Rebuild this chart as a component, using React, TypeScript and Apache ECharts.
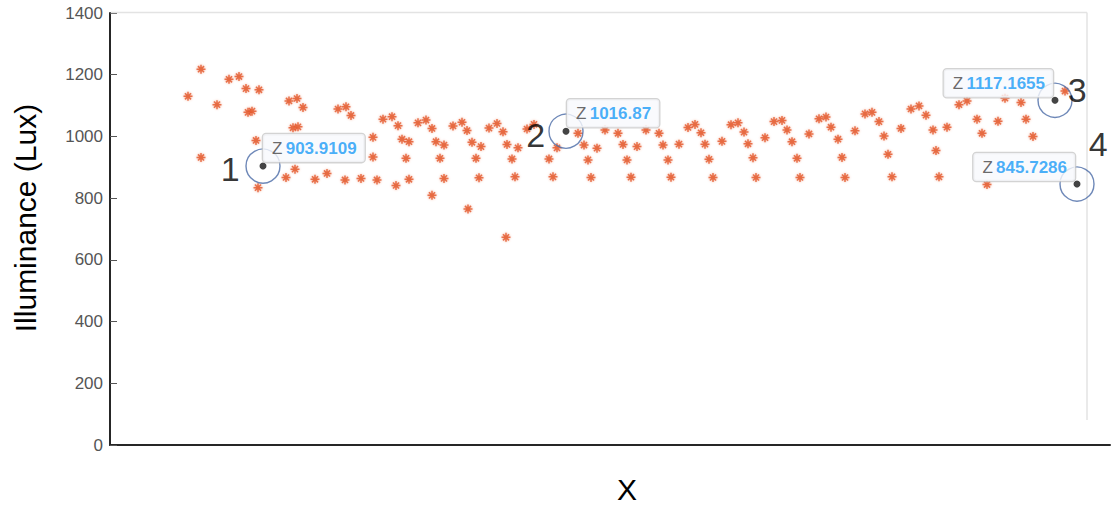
import React, { useEffect, useRef } from "react";
import * as echarts from "echarts";

// Measured illuminance samples along X
const sampleX = [
  7.8, 9.1, 9.1, 10.7, 11.9, 12.9, 13.6, 13.8, 14.2, 14.6,
  14.9, 14.8, 17.6, 17.9, 18.3, 18.5, 18.7, 18.8, 19.3, 20.5,
  21.7, 22.8, 23.5, 23.6, 24.1, 25.1, 26.3, 26.3, 26.7, 27.3,
  28.2, 28.6, 28.8, 29.2, 29.6, 29.9, 29.9, 30.8, 31.6, 32.2,
  32.2, 32.6, 33.0, 33.4, 33.4, 34.3, 35.2, 35.7, 35.8, 36.2,
  36.6, 36.9, 37.1, 37.9, 38.7, 39.3, 39.6, 39.7, 40.2, 40.5,
  40.8, 41.7, 42.4, 43.9, 44.3, 44.7, 46.8, 47.4, 47.8, 48.1,
  48.7, 49.5, 50.8, 51.3, 51.7, 52.1, 52.7, 53.6, 54.9, 55.3,
  55.8, 56.1, 56.9, 57.8, 58.5, 59.1, 59.5, 59.9, 60.3, 61.2,
  62.1, 62.8, 63.4, 63.8, 64.3, 64.6, 65.5, 66.4, 67.2, 67.7,
  68.2, 68.7, 69.0, 69.9, 70.9, 71.6, 72.1, 72.8, 73.2, 73.5,
  74.5, 75.5, 76.2, 76.9, 77.4, 77.8, 78.2, 79.1, 80.1, 80.9,
  81.6, 82.3, 82.6, 82.9, 83.7, 84.9, 85.7, 86.7, 87.2, 87.7,
  88.8, 89.5, 91.1, 91.6, 92.3, 95.5,
];
const sampleLux = [
  1130, 1218, 932, 1103, 1185, 1194, 1155, 1078, 1082, 987,
  1151, 834, 867, 1115, 1028, 894, 1123, 1031, 1094, 861,
  880, 1089, 859, 1096, 1068, 864, 997, 933, 859, 1056,
  1064, 841, 1035, 991, 929, 983, 861, 1044, 1053, 1026,
  809, 983, 929, 864, 972, 1034, 1046, 1019, 765, 981,
  929, 866, 967, 1027, 1042, 1015, 673, 974, 927, 869,
  963, 1024, 1039, 927, 869, 963, 1010, 972, 924, 867,
  962, 1021, 1010, 974, 924, 868, 967, 1021, 1010, 972,
  924, 868, 975, 1029, 1039, 1012, 975, 926, 867, 984,
  1038, 1044, 1014, 976, 931, 867, 996, 1048, 1052, 1021,
  983, 929, 867, 1008, 1057, 1063, 1030, 991, 932, 867,
  1018, 1073, 1078, 1048, 1001, 942, 869, 1026, 1089, 1099,
  1069, 1021, 954, 869, 1030, 1103, 1115, 1056, 1010, 844,
  1049, 1124, 1110, 1056, 1000, 1147,
];

// Marked points with data tips
const tipX = [15.3, 45.6, 94.5, 96.7];
const tipZ = [903.9109, 1016.87, 1117.1655, 845.7286];
const tipTags = ["1", "2", "3", "4"];

// Axis ranges
const yMin = 0;
const yMax = 1400;
const yStep = 200;
const xMin = 0;
const xMax = 100;

const ASTERISK = "path://M5 0L5 10M0 5L10 5M1.6 1.6L8.4 8.4M8.4 1.6L1.6 8.4";
const FONT = "'Liberation Sans', Arial, Helvetica, sans-serif";

// Placement of each data tip box relative to its point
const tipBoxPlacement = [
  { position: [3.5, -0.5], align: "left" },
  { position: [4.5, -0.5], align: "left" },
  { position: [1.5, 0.5], align: "right" },
  { position: [1.5, 0.5], align: "right" },
];
// Placement of the numbered tags relative to each ring
const tagPlacement = [
  [-15, 20.5],
  [-12.5, 21.5],
  [40, 7],
  [39, -22.5],
];

export default function App() {
  const ref = useRef<HTMLDivElement>(null);

  useEffect(() => {
    document.body.style.margin = "0";
    const chart = echarts.init(ref.current!, undefined, { renderer: "svg" });

    const samples = sampleX.map((x, i) => [x, sampleLux[i]]);

    const tipDots = tipX.map((x, i) => ({
      value: [x, tipZ[i]],
      label: {
        show: true,
        position: tipBoxPlacement[i].position,
        align: tipBoxPlacement[i].align,
        verticalAlign: "bottom",
        formatter: () => `{z|Z} {v|${tipZ[i]}}`,
      },
    }));

    const rings = tipX.map((x, i) => ({
      value: [x, tipZ[i]],
      label: {
        show: true,
        position: tagPlacement[i],
        align: "center",
        verticalAlign: "middle",
        formatter: () => tipTags[i],
      },
    }));

    chart.setOption({
      animation: false,
      backgroundColor: "#ffffff",
      grid: { left: 110, right: 1, top: 13, bottom: 62 },
      xAxis: {
        type: "value",
        min: xMin,
        max: xMax,
        axisLine: { show: true, lineStyle: { color: "#262626", width: 2 } },
        axisTick: { show: false },
        axisLabel: { show: false },
        splitLine: { show: false },
      },
      yAxis: {
        type: "value",
        min: yMin,
        max: yMax,
        interval: yStep,
        axisLine: { show: true, lineStyle: { color: "#262626", width: 2 } },
        axisTick: { show: true, inside: true, length: 7, lineStyle: { color: "#555", width: 1 } },
        axisLabel: {
          color: "#555555",
          fontSize: 17,
          fontFamily: FONT,
          margin: 7,
          formatter: (v: number) => String(v),
        },
        splitLine: { show: false },
      },
      graphic: [
        {
          type: "line",
          shape: { x1: 111, y1: 12.5, x2: 1087, y2: 12.5 },
          style: { stroke: "#e3e3e3", lineWidth: 1.5 },
          z: 1,
        },
        {
          type: "line",
          shape: { x1: 1087, y1: 12.5, x2: 1087, y2: 420 },
          style: { stroke: "#e3e3e3", lineWidth: 1.5 },
          z: 1,
        },
        {
          type: "text",
          x: 627,
          y: 489,
          style: {
            text: "X",
            fontSize: 30,
            fontFamily: FONT,
            fill: "#000",
            align: "center",
            verticalAlign: "middle",
          },
        },
        {
          type: "text",
          x: 25,
          y: 218,
          rotation: Math.PI / 2,
          style: {
            text: "Illuminance (Lux)",
            fontSize: 30,
            fontFamily: FONT,
            fill: "#000",
            align: "center",
            verticalAlign: "middle",
          },
        },
      ],
      series: [
        {
          name: "Illuminance",
          type: "scatter",
          data: samples,
          symbol: ASTERISK,
          symbolSize: 9,
          itemStyle: {
            color: "rgba(0,0,0,0)",
            borderColor: "#e4582a",
            borderWidth: 1.5,
            shadowBlur: 2,
            shadowColor: "rgba(235,110,70,0.7)",
          },
          z: 2,
        },
        {
          name: "rings",
          type: "scatter",
          data: rings,
          symbol: "circle",
          symbolSize: 34,
          itemStyle: {
            color: "rgba(0,0,0,0)",
            borderColor: "#4a6aa6",
            borderWidth: 1.4,
          },
          label: {
            color: "#000",
            fontSize: 34,
            fontFamily: FONT,
          },
          z: 3,
        },
        {
          name: "tips",
          type: "scatter",
          data: tipDots,
          symbol: "circle",
          symbolSize: 7,
          itemStyle: { color: "#151515" },
          label: {
            backgroundColor: "#f8f9fc",
            borderColor: "#c8c8c8",
            borderWidth: 1.3,
            borderRadius: 3,
            padding: [6, 8, 5, 9],
            rich: {
              z: { color: "#444", fontSize: 17, fontFamily: FONT },
              v: { color: "#1a9bf7", fontSize: 17, fontWeight: "bold", fontFamily: FONT },
            },
          },
          z: 4,
        },
      ],
    });

    return () => chart.dispose();
  }, []);

  return <div ref={ref} style={{ width: 1111, height: 507 }} />;
}
